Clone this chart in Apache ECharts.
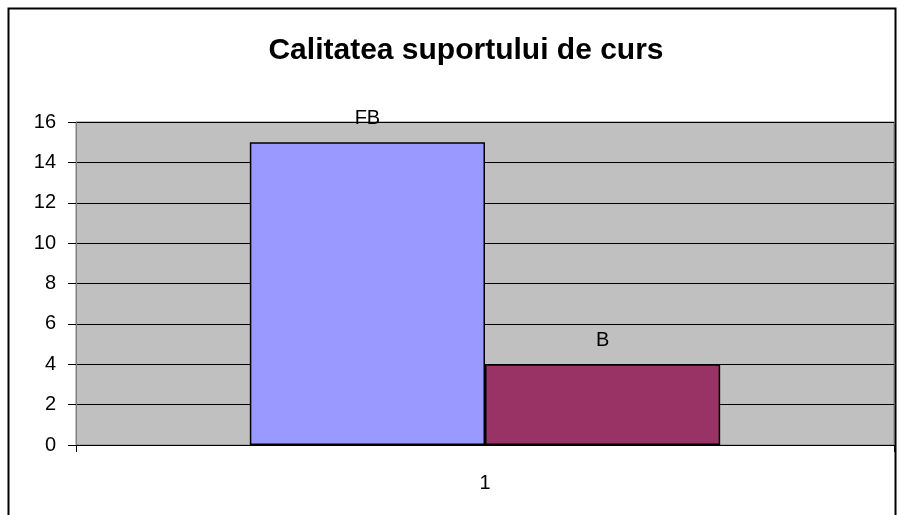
<!DOCTYPE html>
<html>
<head>
<meta charset="utf-8">
<script src="https://cdn.jsdelivr.net/npm/echarts@6/dist/echarts.min.js"></script>
<style>
	html, body { margin: 0; padding: 0; background: #fff; }
	#main { width: 900px; height: 515px; }
</style>
</head>
<body>
<div id="main"></div>
<script>
// date din grafic
const categorii = ['1'];
const serieFB = [15];
const serieB = [4];
const numeSerii = ['FB', 'B'];
const culori = ['#9999FF', '#993366'];

const myCharts = echarts.init(document.getElementById('main'));

function serieBara(nume, valori, culoare) {
	return {
		name: nume,
		type: 'bar',
		data: valori,
		barGap: '0%',
		barCategoryGap: '42.5%',
		itemStyle: {
			color: culoare,
			borderColor: '#000',
			borderWidth: 1.5
		},
		label: {
			show: true,
			position: 'top',
			distance: 14,
			formatter: nume,
			color: '#000',
			fontFamily: 'Liberation Sans, Arial',
			fontSize: 20
		}
	};
}

let option = {
	animation: false,
	backgroundColor: '#fff',
	title: {
		text: 'Calitatea suportului de curs',
		left: 461,
		top: 31,
		textAlign: 'center',
		textStyle: {
			color: '#000',
			fontFamily: 'Liberation Sans, Arial',
			fontWeight: 'bold',
			fontSize: 30
		}
	},
	graphic: [{
		type: 'rect',
		shape: { x: 8.5, y: 8.5, width: 887, height: 520 },
		style: { fill: 'none', stroke: '#000', lineWidth: 2 },
		silent: true
	}],
	grid: {
		left: 76,
		right: 6,
		top: 122,
		bottom: 70,
		show: true,
		backgroundColor: '#C0C0C0',
		borderColor: '#808080',
		borderWidth: 1
	},
	xAxis: {
		type: 'category',
		data: categorii,
		axisLine: { lineStyle: { color: '#000', width: 1 } },
		axisTick: { show: true, length: 7, lineStyle: { color: '#000' } },
		axisLabel: {
			margin: 28,
			color: '#000',
			fontFamily: 'Liberation Sans, Arial',
			fontSize: 20
		}
	},
	yAxis: {
		type: 'value',
		min: 0,
		max: 16,
		interval: 2,
		axisLine: { show: true, lineStyle: { color: '#808080' } },
		axisTick: { show: true, length: 8, lineStyle: { color: '#000' } },
		axisLabel: {
			margin: 20,
			color: '#000',
			fontFamily: 'Liberation Sans, Arial',
			fontSize: 20
		},
		splitLine: { show: true, lineStyle: { color: '#000', width: 1 } }
	},
	series: [
		serieBara(numeSerii[0], serieFB, culori[0]),
		serieBara(numeSerii[1], serieB, culori[1])
	]
};

myCharts.setOption(option);
</script>
</body>
</html>
